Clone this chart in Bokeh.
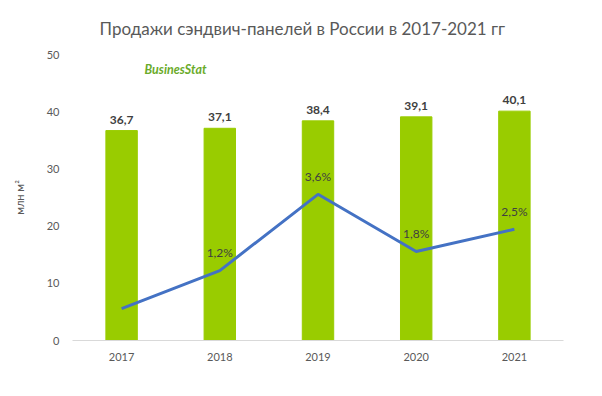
from bokeh.plotting import figure
from bokeh.models import ColumnDataSource, Range1d, Label, LabelSet, FixedTicker
from bokeh.embed import file_html
from bokeh.resources import INLINE
from bokeh.core.properties import value

years = ["2017", "2018", "2019", "2020", "2021"]
sales = [36.7, 37.1, 38.4, 39.1, 40.1]
sales_labels = ["36,7", "37,1", "38,4", "39,1", "40,1"]
growth = [0.0, 1.2, 3.6, 1.8, 2.5]
growth_labels = ["", "1,2%", "3,6%", "1,8%", "2,5%"]

FONT = "Lato"
GREY = "#595959"

src = ColumnDataSource(dict(x=years, y=sales, lab=sales_labels, g=growth, glab=growth_labels))

p = figure(x_range=years, y_range=Range1d(0, 50), frame_width=491, frame_height=286,
           output_backend="svg", toolbar_location=None,
           title="Продажи сэндвич-панелей в России в 2017-2021 гг",
           min_border_left=72, min_border_right=20, min_border_top=54, min_border_bottom=40)
p.title.align = "left"
p.title.text_font = FONT
p.title.text_font_size = "17px"
p.title.text_font_style = "normal"
p.title.text_color = GREY
p.title.offset = 27
p.title.standoff = 31

p.x_range.range_padding = 0
p.extra_y_ranges = {"g": Range1d(-1, 8)}
p.outline_line_color = None
p.grid.grid_line_color = None

p.vbar(x="x", top="y", width=0.32, source=src, color="#99CC00")
p.line(x="x", y="g", source=src, y_range_name="g", line_color="#4472C4", line_width=3)

p.add_layout(LabelSet(x="x", y="y", text="lab", source=src, text_align="center",
                      text_baseline="bottom", y_offset=7, text_font=value(FONT),
                      text_font_style="bold", text_font_size="12px", text_color="#404040"))
p.add_layout(LabelSet(x="x", y="g", text="glab", source=src, y_range_name="g",
                      text_align="center", text_baseline="middle", y_offset=18,
                      text_font=value(FONT), text_font_size="12px", text_color="#404040"))

ya = p.yaxis[0]
ya.ticker = FixedTicker(ticks=[0, 10, 20, 30, 40, 50])
ya.axis_line_color = None
ya.major_tick_line_color = None
ya.minor_tick_line_color = None
ya.major_label_standoff = 7
ya.major_label_text_font = FONT
ya.major_label_text_font_size = "11px"
ya.major_label_text_color = GREY
ya.axis_label = "млн м²"
ya.axis_label_text_font = FONT
ya.axis_label_text_font_size = "11px"
ya.axis_label_text_font_style = "normal"
ya.axis_label_text_color = GREY
ya.axis_label_standoff = 18

xa = p.xaxis[0]
xa.axis_line_color = "#D9D9D9"
xa.axis_line_width = 1
xa.major_tick_line_color = None
xa.minor_tick_line_color = None
xa.major_label_standoff = 6
xa.major_label_text_font = FONT
xa.major_label_text_font_size = "11px"
xa.major_label_text_color = GREY

p.add_layout(Label(x=72, y=271, x_units="screen", y_units="screen", text="BusinesStat",
                   text_align="left", text_baseline="middle", text_font=FONT,
                   text_font_style="bold italic", text_font_size="12.5px", text_color="#6AAB2A"))

open("out.html", "w").write(file_html(p, INLINE))
